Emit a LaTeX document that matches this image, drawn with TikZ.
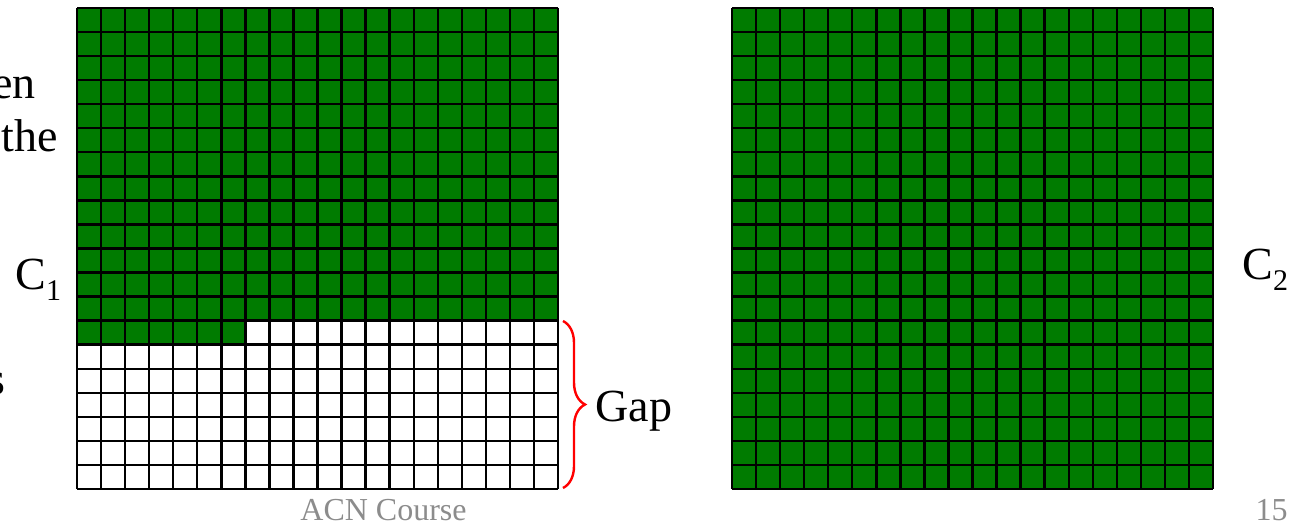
\documentclass[tikz,border=0pt]{standalone}
\usepackage{fontspec}
\setmainfont{Liberation Serif}
\usetikzlibrary{decorations.pathreplacing}
\definecolor{cellgreen}{RGB}{0,123,0}
\definecolor{footgray}{RGB}{140,140,140}
\newcommand{\mysub}[1]{\raisebox{-5.5pt}{\fontsize{15}{15}\selectfont #1}}
\tikzset{
  gridline/.style={line width=1.2pt, black},
  lbl/.style={inner sep=0pt, font=\fontsize{23}{27}\selectfont},
  foot/.style={inner sep=0pt, text=footgray, font=\fontsize{16}{19}\selectfont},
  gapbrace/.style={red, line width=1.2pt, decorate, decoration={brace, amplitude=11pt}}
}
\begin{document}
\begin{tikzpicture}[x=0.5pt, y=-0.5pt]
\useasboundingbox (0,0) rectangle (1291,523);
\def\cs{24.05}
% left grid
\fill[cellgreen] (77,8) rectangle (558,{8+13*\cs});
\fill[cellgreen] (77,{8+13*\cs}) rectangle ({77+7*\cs},{8+14*\cs});
\foreach \i in {0,...,20} {
  \draw[gridline] ({77+\i*\cs},8) -- ({77+\i*\cs},489);
  \draw[gridline] (77,{8+\i*\cs}) -- (558,{8+\i*\cs});
}
% right grid
\fill[cellgreen] (732,8) rectangle (1213,489);
\foreach \i in {0,...,20} {
  \draw[gridline] ({732+\i*\cs},8) -- ({732+\i*\cs},489);
  \draw[gridline] (732,{8+\i*\cs}) -- (1213,{8+\i*\cs});
}
% texts
\node[lbl, anchor=base east] (en) at (36,99) {en};
\node[lbl, anchor=base east] (the) at (58,152) {the};
\node[lbl, anchor=base east] (s) at (6,395) {s};
\node[lbl, anchor=base west] (c1) at (15,290) {C\mysub{1}};
\node[lbl, anchor=base west] (c2) at (1242,280) {C\mysub{2}};
\coordinate (btop) at (563,321);
\coordinate (bbot) at (563,488);
\draw[gapbrace] (btop) -- (bbot);
\node[lbl, anchor=base west] (gap) at (595,422) {Gap};
\node[foot, anchor=base west] (course) at (300,521) {ACN Course};
\node[foot, anchor=base east] (page) at (1288,521) {15};
\end{tikzpicture}
\end{document}
